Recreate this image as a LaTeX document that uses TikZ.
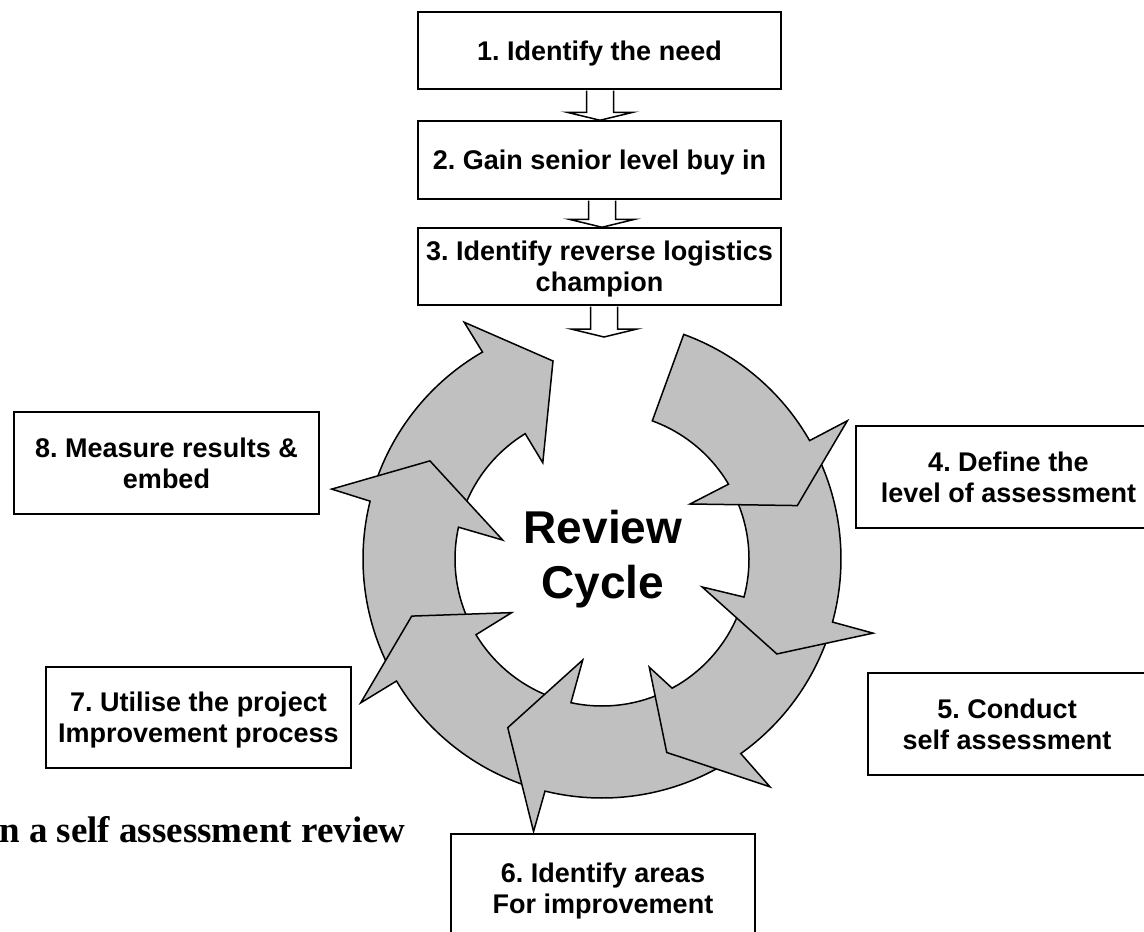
\documentclass[tikz,border=0pt]{standalone}
\usepackage{fontspec}
\setmainfont{Liberation Serif}
\setsansfont{Liberation Sans}
\usetikzlibrary{calc}
\definecolor{ringgray}{RGB}{192,192,192}

% hollow block arrow pointing down: start anchor, end anchor, x offset
\newcommand\stepdown[3]{%
  \draw[hollow] let \p1=(#1), \p2=(#2) in
    (\x1+#3-13.5,\y1-0.75) -- (\x1+#3-13.5,\y2+8) -- (\x1+#3-33,\y2+8) --
    (\x1+#3,\y2) -- (\x1+#3+33,\y2+8) -- (\x1+#3+13.5,\y2+8) --
    (\x1+#3+13.5,\y1-0.75);}

% curved block arrow of the ring (drawn clockwise):
% tail angle, outer notch angle, inner notch angle,
% outer barb, tip, inner barb (polar points)
\def\ringout{239}
\def\ringin{147}
\newcommand\cyclearrow[6]{%
  \filldraw[ringarrow] (#1:\ringout) arc[start angle=#1, end angle=#2, radius=\ringout]
    -- (#4) -- (#5) -- (#6) -- (#3:\ringin)
    arc[start angle=#3, end angle=#1, radius=\ringin] -- cycle;}

\begin{document}
\frenchspacing
\begin{tikzpicture}[x=1pt,y=1pt,
  stepbox/.style={draw=black, line width=1.5pt, fill=white, rectangle,
    inner sep=0pt, align=center, text depth=0pt,
    font=\sffamily\bfseries\fontsize{27}{31}\selectfont},
  ringarrow/.style={draw=black, line width=1.5pt, fill=ringgray, line join=miter},
  hollow/.style={draw=black, line width=1.5pt, fill=white}]
\useasboundingbox (0,0) rectangle (1144,-932);
\fill[white] (0,0) rectangle (1144,-932);
\clip (0,0) rectangle (1144,-932);

% ---- the review cycle ring ----
\begin{scope}[shift={(602,-559)}]
  \cyclearrow{162}{120}{121.5}{120.2:274}{103.9:204}{121.6:113}
  \cyclearrow{207}{166}{167.5}{165.5:279.2}{150.3:198.1}{169.2:101.1}
  \cyclearrow{252}{210.7}{211}{210.8:280.9}{196.7:198.7}{210.7:105}
  \cyclearrow{300}{256.2}{257.8}{255.9:281}{240.8:193.2}{259.2:102.8}
  \cyclearrow{342}{305.5}{298.5}{306.4:283}{288.5:204}{293.6:118}
  \cyclearrow{25}{-15.3}{-15}{-15.3:281}{-28.5:199}{-15.6:104}
  \cyclearrow{70}{29.7}{30.6}{29.4:281.6}{15.3:202.5}{32:103.8}
\end{scope}

\node[align=center, font=\sffamily\bfseries\fontsize{46}{55}\selectfont]
  (rc) at (603,-559) {Review\\Cycle};

% ---- steps ----
\node[stepbox, minimum width=363pt, minimum height=77pt] (b1) at (599.5,-50.5) {1. Identify the need};
\node[stepbox, minimum width=363pt, minimum height=78pt] (b2) at (599.5,-160) {2. Gain senior level buy in};
\node[stepbox, minimum width=363pt, minimum height=77pt] (b3) at (599.5,-266.5) {3. Identify reverse logistics\\champion};
\node[stepbox, minimum width=305pt, minimum height=102pt] (b4) at (1008.5,-477) {4. Define the\\level of assessment};
\node[stepbox, minimum width=278pt, minimum height=102pt] (b5) at (1007,-724) {5. Conduct\\self assessment};
\node[stepbox, minimum width=304pt, minimum height=108pt] (b6) at (603,-888) {6. Identify areas\\For improvement};
\node[stepbox, minimum width=305pt, minimum height=101pt] (b7) at (198.5,-717.5) {7. Utilise the project\\Improvement process};
\node[stepbox, minimum width=305pt, minimum height=102pt] (b8) at (166.5,-463) {8. Measure results \&\\embed};

\coordinate (ringtop) at (604,-337);
\stepdown{b1.south}{b2.north}{0.5}
\stepdown{b2.south}{b3.north}{2.5}
\stepdown{b3.south}{ringtop}{4.5}

% ---- caption ----
\node[anchor=base west, inner sep=0pt,
  font=\rmfamily\bfseries\fontsize{37}{44}\selectfont]
  (cap) at (-1,-842) {n a self assessment review};
\end{tikzpicture}
\end{document}
